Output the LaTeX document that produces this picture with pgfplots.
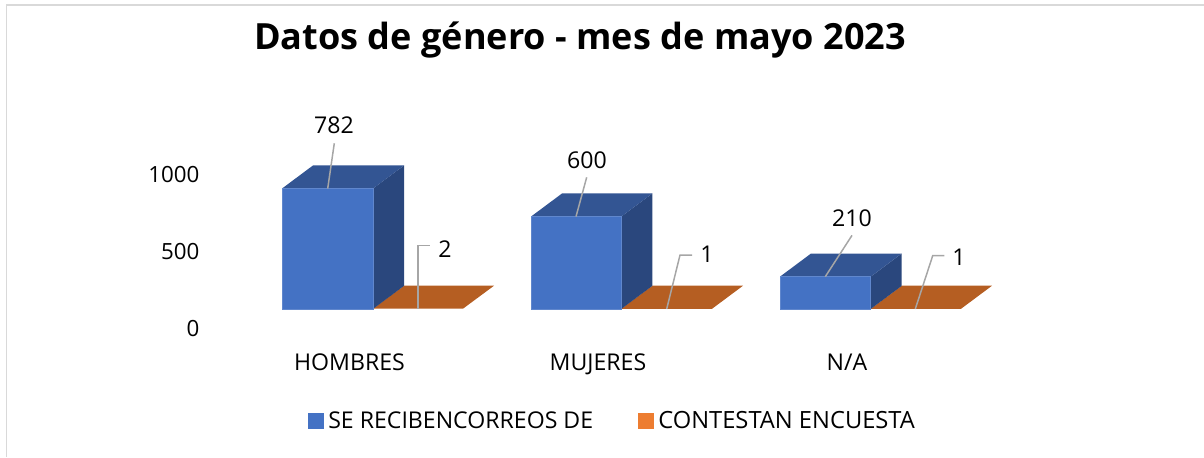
\documentclass[border=0pt]{standalone}
\usepackage{fontspec}
\setmainfont{Open Sans}
\usepackage{pgfplots}
\pgfplotsset{compat=1.18}
\definecolor{barFront}{HTML}{4472C4}
\definecolor{barTop}{HTML}{335593}
\definecolor{barSide}{HTML}{2A477D}
\definecolor{orangeTop}{HTML}{B55E22}
\definecolor{orangeKey}{HTML}{ED7D31}
\definecolor{leader}{HTML}{A6A6A6}
\definecolor{frame}{HTML}{D9D9D9}
\newcommand{\chartfont}{\fontsize{23.2}{27}\selectfont}
\begin{document}
\begin{tikzpicture}
\begin{axis}[
    width=1204bp, height=457bp, scale only axis,
    xmin=0, xmax=1204,
    ymin=-831.2, ymax=2136.4,
    axis line style={draw=none},
    tick style={draw=none},
    xtick={349.5,598,847},
    xticklabels={HOMBRES,MUJERES,N/A},
    ytick={0,500,1000},
    yticklabels={0,500,1000},
    tick label style={font=\chartfont, text=black},
    major tick length=0pt,
    xtick pos=bottom, ytick pos=left,
    xticklabel style={anchor=base, yshift=87bp},
    yticklabel style={anchor=east, xshift=203bp, font=\fontsize{22.4}{26}\selectfont},
    legend columns=2,
    legend cell align=left,
    legend style={draw=none, fill=none, font=\chartfont,
        at={(axis cs:612.5,-597)}, anchor=center,
        inner sep=0pt, outer sep=0pt,
        /tikz/every even column/.append style={column sep=43bp}},
    legend image code/.code={\fill[#1] (0bp,-7.5bp) rectangle (15bp,7.5bp);\path[draw=none] (0bp,0bp) -- (18bp,0bp);},
]
% frame, top and left only
\addplot[frame, line width=1.4pt, forget plot] coordinates {(1204,2104)(6.5,2104)(6.5,-831.2)};

\addlegendimage{barFront}
\addlegendentry{SE RECIBENCORREOS DE}
\addlegendimage{orangeKey}
\addlegendentry{\fontsize{23.8}{27}\selectfont CONTESTAN ENCUESTA}

% flat orange bars: values 2, 1, 1 above the floor at 130
\addplot[fill=orangeTop, draw=none, forget plot] coordinates {(373,132)(463,132)(494,281)(404,281)} -- cycle;
\addplot[fill=orangeTop, draw=none, forget plot] coordinates {(621.3,131)(712,131)(743,281)(652.3,281)} -- cycle;
\addplot[fill=orangeTop, draw=none, forget plot] coordinates {(870.7,131)(961,131)(992,281)(901.7,281)} -- cycle;

% HOMBRES 782
\addplot[fill=barSide, draw=none, forget plot] coordinates {(373,130)(404,280)(404,1062)(373,912)} -- cycle;
\addplot[fill=barTop, draw=none, forget plot] coordinates {(282,912)(373,912)(404,1062)(313,1062)} -- cycle;
\addplot[fill=barFront, draw=barFront!85!white, line width=0.7pt, forget plot] coordinates {(282,130)(373,130)(373,912)(282,912)} -- cycle;
% MUJERES 600
\addplot[fill=barSide, draw=none, forget plot] coordinates {(621.3,130)(652.3,280)(652.3,880)(621.3,730)} -- cycle;
\addplot[fill=barTop, draw=none, forget plot] coordinates {(531,730)(621.3,730)(652.3,880)(562,880)} -- cycle;
\addplot[fill=barFront, draw=barFront!85!white, line width=0.7pt, forget plot] coordinates {(531,130)(621.3,130)(621.3,730)(531,730)} -- cycle;
% N/A 210
\addplot[fill=barSide, draw=none, forget plot] coordinates {(870.7,130)(901.7,280)(901.7,490)(870.7,340)} -- cycle;
\addplot[fill=barTop, draw=none, forget plot] coordinates {(780,340)(870.7,340)(901.7,490)(811,490)} -- cycle;
\addplot[fill=barFront, draw=barFront!85!white, line width=0.7pt, forget plot] coordinates {(780,130)(870.7,130)(870.7,340)(780,340)} -- cycle;

% leader lines
\addplot[leader, line width=1.5pt, forget plot] coordinates {(327.7,912)(334.3,1206)};
\addplot[leader, line width=1.5pt, forget plot] coordinates {(418,130)(418,543)(430.3,543)};
\addplot[leader, line width=1.5pt, forget plot] coordinates {(576,730)(586.7,985)};
\addplot[leader, line width=1.5pt, forget plot] coordinates {(666.7,130)(680,480)(692,480)};
\addplot[leader, line width=1.5pt, forget plot] coordinates {(825.3,340)(852,608)};
\addplot[leader, line width=1.5pt, forget plot] coordinates {(915.3,130)(932.7,476)(944.3,476)};

% data labels
\node[font=\chartfont] at (axis cs:334,1325) {782};
\node[font=\chartfont] at (axis cs:445,519) {2};
\node[font=\chartfont] at (axis cs:587,1097) {600};
\node[font=\chartfont] at (axis cs:707,487) {1};
\node[font=\chartfont] at (axis cs:852,721) {210};
\node[font=\chartfont] at (axis cs:959,468) {1};

\node[font=\fontsize{36.2}{42}\selectfont\bfseries] at (axis cs:580,1877) {Datos de género - mes de mayo 2023};
\end{axis}
\end{tikzpicture}
\end{document}
